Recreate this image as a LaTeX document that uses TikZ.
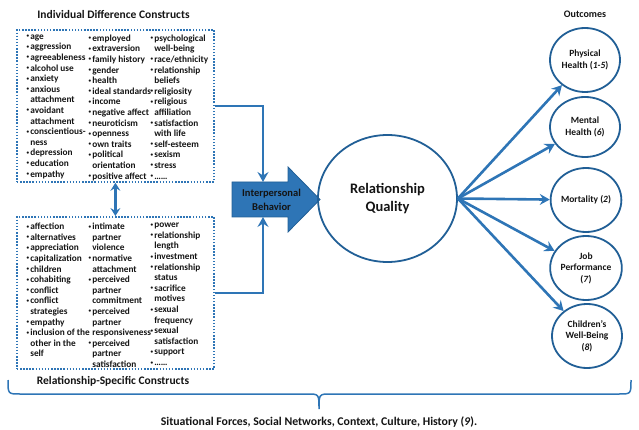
\documentclass[tikz,border=0pt]{standalone}
\usepackage{fontspec}
\setmainfont{Carlito}
\usetikzlibrary{shapes.geometric,arrows.meta}
\definecolor{mblue}{RGB}{46,117,182}
\definecolor{dblue}{RGB}{33,95,150}
\definecolor{txt}{RGB}{20,20,20}
\newcommand\bl{\makebox[3.6pt][l]{\raisebox{0.35ex}{\scalebox{0.55}{•}}}}
\newcommand\ii{\hspace*{3.6pt}}
\begin{document}
\begin{tikzpicture}[x=1pt,y=-1pt,
  dotbox/.style={draw=mblue, line width=1.8pt, dash pattern=on 1.5pt off 1.6pt, inner sep=0, minimum width=197pt, minimum height=152pt, anchor=north west},
  listcol/.style={anchor=north west, inner sep=0, align=left, text=txt, font=\bfseries\fontsize{9.3}{10.6}\selectfont},
  title/.style={inner sep=0, text=txt, font=\bfseries\fontsize{11.5}{13}\selectfont},
  outc/.style={ellipse, draw=dblue, line width=1.8pt, inner sep=0, minimum width=70pt, minimum height=64pt, align=center, text=txt, font=\bfseries\fontsize{9.5}{11.5}\selectfont},
  flow/.style={draw=mblue, line width=2.6pt, -{Stealth[length=10pt,width=11pt,inset=3.5pt]}},
  brace/.style={draw=mblue, line width=1.5pt}
]
\useasboundingbox (0,0) rectangle (639,430);

% titles
\node[title] (t1) at (113.5,15) {Individual Difference Constructs};
\node[title] (t2) at (113,381) {Relationship-Specific Constructs};
\node[title, font=\bfseries\fontsize{10}{12}\selectfont] (t3) at (585,14) {Outcomes};
\node[title, font=\bfseries\fontsize{11.8}{13}\selectfont] (t4) at (319,422) {Situational Forces, Social Networks, Context, Culture, History (\textit{9}).};

% boxes
\node[dotbox] (topbox) at (16,29) {};
\node[dotbox] (botbox) at (16,216) {};

% top lists
\node[listcol] (c11) at (26.5,34.5) {\bl age\\ \bl aggression\\ \bl agreeableness\\ \bl alcohol use\\ \bl anxiety\\ \bl anxious\\ \ii attachment\\ \bl avoidant\\ \ii attachment\\ \bl conscientious-\\ \ii ness\\ \bl depression\\ \bl education\\ \bl empathy};
\node[listcol] (c12) at (88.5,34.5) {\bl employed\\ \bl extraversion\\ \bl family history\\ \bl gender\\ \bl health\\ \bl ideal standards\\ \bl income\\ \bl negative\ affect\\ \bl neuroticism\\ \bl openness\\ \bl own traits\\ \bl political\\ \ii orientation\\ \bl positive affect};
\node[listcol] (c13) at (150.5,34.5) {\bl psychological\\ \ii well-being\\ \bl race/ethnicity\\ \bl relationship\\ \ii beliefs\\ \bl religiosity\\ \bl religious\\ \ii affiliation\\ \bl satisfaction\\ \ii with life\\ \bl self-esteem\\ \bl sexism\\ \bl stress\\ \bl ……};

% bottom lists
\node[listcol] (c21) at (26.5,223) {\bl affection\\ \bl alternatives\\ \bl appreciation\\ \bl capitalization\\ \bl children\\ \bl cohabiting\\ \bl conflict\\ \bl conflict\\ \ii strategies\\ \bl empathy\\ \bl inclusion of the\\ \ii other in the\\ \ii self};
\node[listcol] (c22) at (88.5,223) {\bl intimate\\ \ii partner\\ \ii violence\\ \bl normative\\ \ii attachment\\ \bl perceived\\ \ii partner\\ \ii commitment\\ \bl perceived\\ \ii partner\\ \ii responsiveness\\ \bl perceived\\ \ii partner\\ \ii satisfaction};
\node[listcol] (c23) at (150.5,223) {\bl power\\ \bl relationship\\ \ii length\\ \bl investment\\ \bl relationship\\ \ii status\\ \bl sacrifice\\ \ii motives\\ \bl sexual\\ \ii frequency\\ \bl sexual\\ \ii satisfaction\\ \bl support\\ \bl ……};

% block arrow (drawn shape)
\filldraw[draw=dblue, fill=mblue, line width=0.8pt, line join=miter]
  (232,182) -- (288,182) -- (288,167) -- (320,199.5) -- (288,232) -- (288,217) -- (232,217) -- cycle;
\node[inner sep=0, align=center, text=txt, font=\bfseries\fontsize{10.5}{14}\selectfont] (ibt) at (271.5,199.5) {Interpersonal\\Behavior};
\coordinate (ibtop) at (263,182);
\coordinate (ibbot) at (263,217);

% big circle
\node[ellipse, draw=dblue, line width=1.8pt, minimum width=139pt, minimum height=127pt, inner sep=0, align=center, text=txt, font=\bfseries\fontsize{14.5}{18.5}\selectfont] (rq) at (387.5,198.5) {Relationship\\Quality};

% outcomes
\node[outc] (ph) at (585,60) {Physical\\Health (\textit{1-5})};
\node[outc, minimum height=60pt] (mh) at (585,127) {Mental\\Health (\textit{6})};
\node[outc] (mo) at (586,200) {Mortality (\textit{2})};
\node[outc] (jp) at (586,268) {Job\\Performance\\(\textit{7})};
\node[outc] (cw) at (587,336) {Children’s\\Well-Being\\(\textit{8})};

% connectors
\draw[flow] (topbox.east) -| (ibtop);
\draw[flow] (botbox.east) -| (ibbot);
\draw[draw=mblue, line width=2.6pt, {Stealth[length=8pt,width=10pt,inset=3pt]}-{Stealth[length=8pt,width=10pt,inset=3pt]}] (topbox.south) -- (botbox.north);
\draw[flow] (rq.east) -- (ph);
\draw[flow] (rq.east) -- (mh);
\draw[flow] (rq.east) -- (mo);
\draw[flow] (rq.east) -- (jp);
\draw[flow] (rq.east) -- (cw);

% brace
\draw[brace] (8,380) .. controls (8,394) .. (20,394) -- (307,394) .. controls (319,394) .. (319,409)
  .. controls (319,394) .. (331,394) -- (619,394) .. controls (631,394) .. (631,380);
\end{tikzpicture}
\end{document}
